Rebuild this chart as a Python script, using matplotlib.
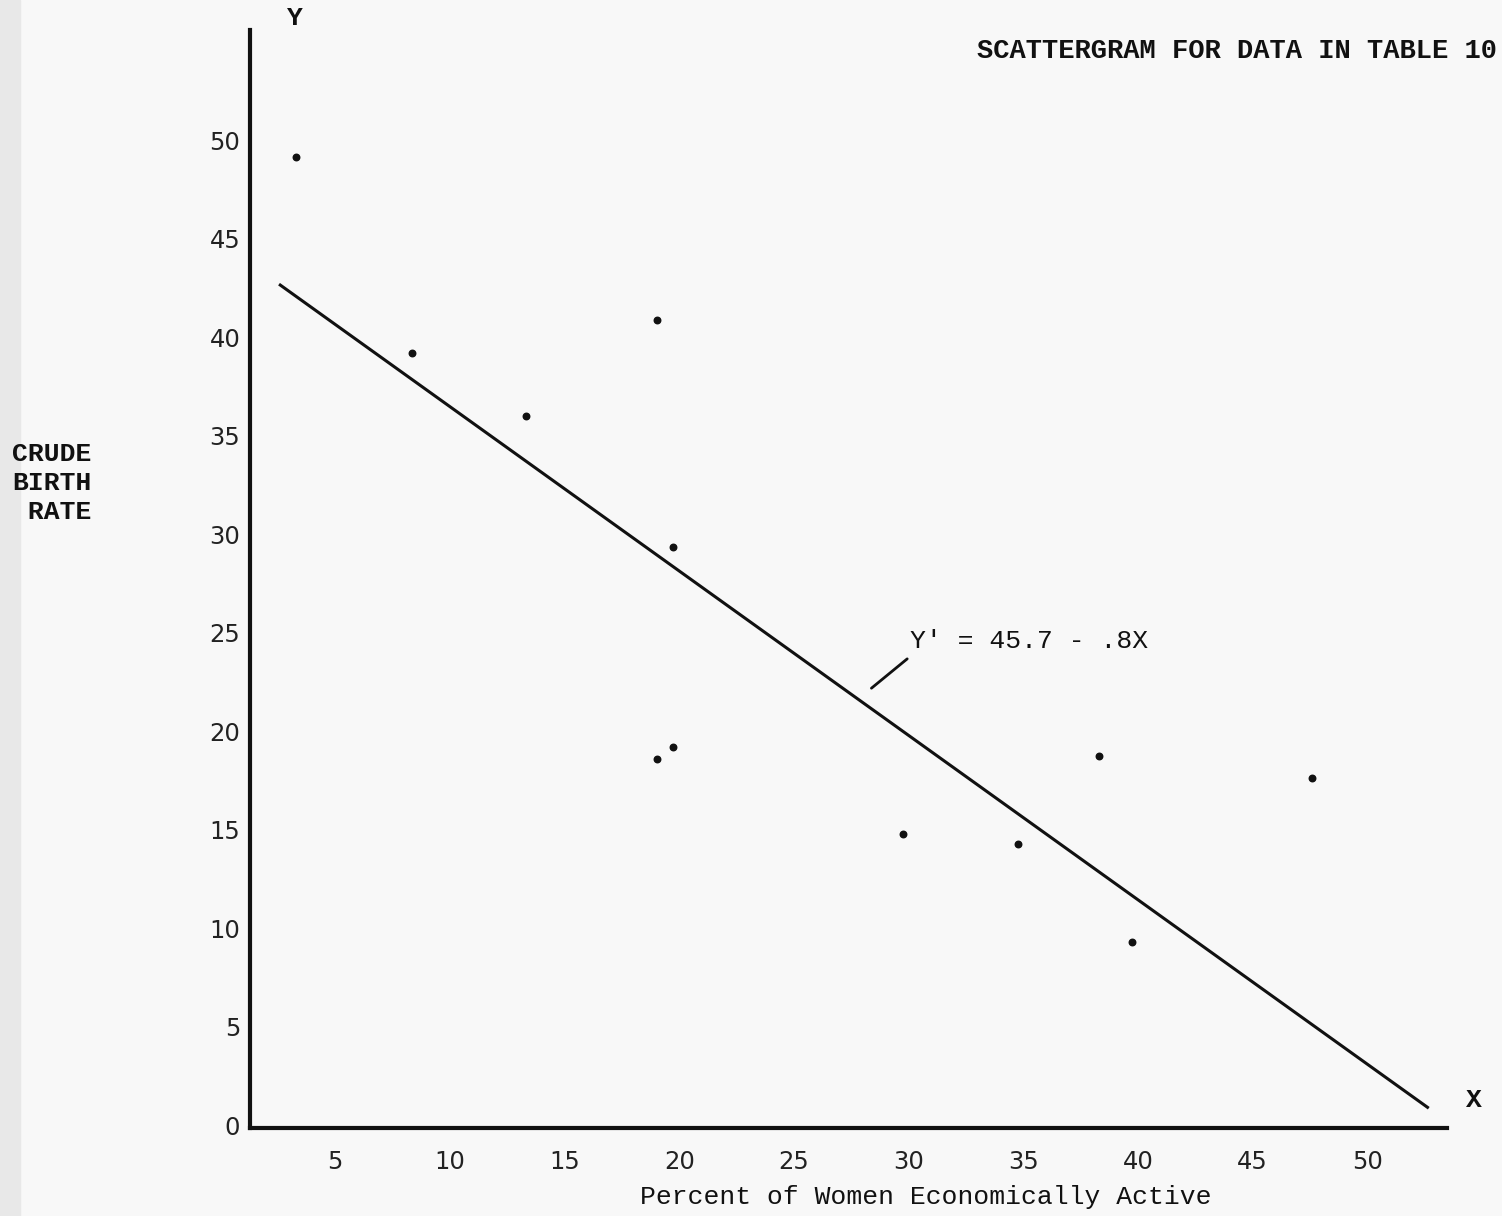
import matplotlib.pyplot as plt
from matplotlib.patches import Rectangle

# Percent of women economically active vs crude birth rate
pct_women = [3.28, 8.33, 13.31, 19.01, 19.71, 19.74, 19.04, 29.77, 34.78, 38.32, 39.76, 47.61]
birth_rate = [49.14, 39.20, 36.00, 40.86, 29.33, 19.20, 18.61, 14.76, 14.28, 18.72, 9.28, 17.63]

# Regression line as drawn on the sheet
line_x = [2.60, 52.63]
line_y = [42.65, 0.90]

x_ticks = [5, 10, 15, 20, 25, 30, 35, 40, 45, 50]
y_ticks = [0, 5, 10, 15, 20, 25, 30, 35, 40, 45, 50]

mono = 'Liberation Mono'
ink = '#111111'

fig = plt.figure(figsize=(15.02, 12.16), dpi=100, facecolor='#f8f8f8')
fig.add_artist(Rectangle((0, 0), 20 / 1502, 1, transform=fig.transFigure,
                         color='#e8e8e8', zorder=0))

ax = fig.add_axes([250 / 1502, 1 - 1128 / 1216, (1447 - 250) / 1502, (1128 - 30) / 1216])
ax.set_facecolor('none')

ax.scatter(pct_women, birth_rate, s=22, color=ink, zorder=3)
ax.plot(line_x, line_y, color=ink, linewidth=2.2)

ax.set_xlim(1.28, 53.48)
ax.set_ylim(-0.15, 55.6)

for side in ['top', 'right']:
    ax.spines[side].set_visible(False)
for side in ['left', 'bottom']:
    ax.spines[side].set_linewidth(3)
    ax.spines[side].set_color(ink)

ax.set_xticks(x_ticks)
ax.set_yticks(y_ticks)
ax.tick_params(length=0, labelsize=17.5, colors='#222222')
ax.tick_params(axis='x', pad=16)
ax.tick_params(axis='y', pad=7)

# regression equation with its leader
ax.annotate('', xy=(28.38, 22.18), xytext=(29.94, 23.67),
            arrowprops=dict(arrowstyle='-', color=ink, lw=2, shrinkA=0, shrinkB=0))
ax.text(30.06, 24.6, "Y' = 45.7 - .8X", fontsize=19, family=mono, color=ink,
        va='center', ha='left')

fig.text(1497 / 1502, 1 - 51 / 1216, 'SCATTERGRAM FOR DATA IN TABLE 10',
         ha='right', va='center', fontsize=19.5, family=mono, weight='bold', color=ink)
fig.text(295 / 1502, 1 - 18 / 1216, 'Y', ha='center', va='center',
         fontsize=19, family=mono, weight='bold', color=ink)
fig.text(1474 / 1502, 1 - 1100 / 1216, 'X', ha='center', va='center',
         fontsize=19, family=mono, weight='bold', color=ink)
fig.text(12 / 1502, 1 - 483 / 1216, 'CRUDE\nBIRTH\n RATE', ha='left', va='center',
         fontsize=19, family=mono, weight='bold', color=ink, linespacing=1.25)
fig.text(926 / 1502, 1 - 1197 / 1216, 'Percent of Women Economically Active',
         ha='center', va='center', fontsize=19, family=mono, color=ink)

fig.savefig('out.png', dpi=100, facecolor=fig.get_facecolor())
